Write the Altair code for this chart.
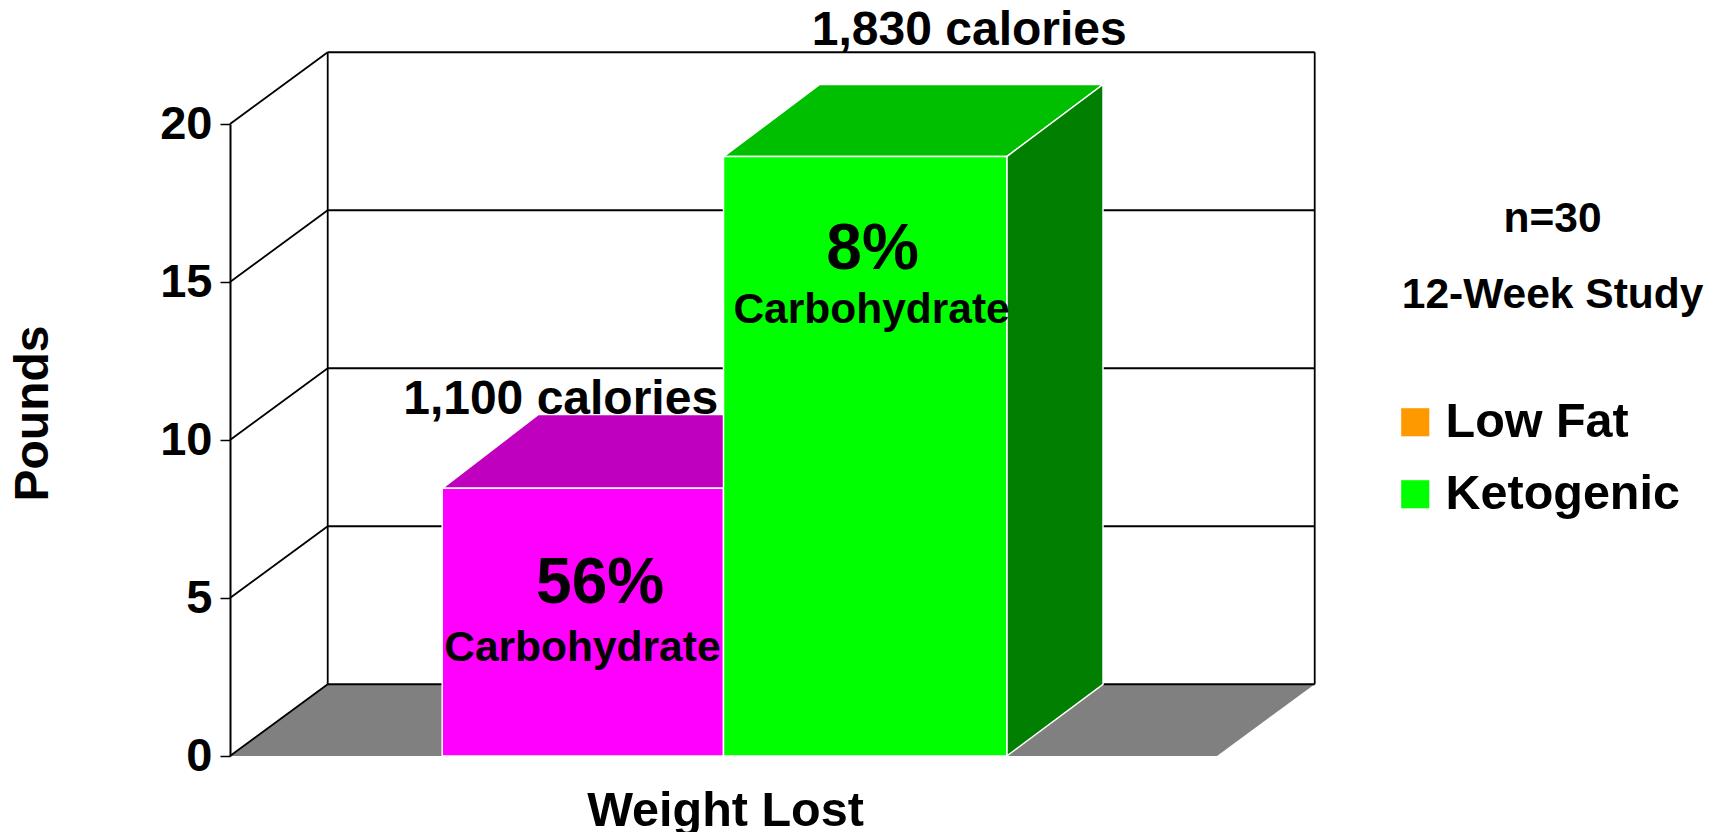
import altair as alt
import pandas as pd

FONT = "Liberation Sans"

# Values
bar_names = ["Low Fat", "Ketogenic"]
bar_values = [8.47, 18.97]
bar_back_values = [10.81, 21.25]
bar_back_floor = [2.27, 2.27]
bar_left = [21.5, 50.0]
bar_right = [50.0, 78.7]
bar_front = ["#FF00FF", "#00FF00"]
bar_top = ["#BF00BF", "#00BF00"]
bar_side = ["#7F007F", "#007F00"]

y_ticks = [0, 5, 10, 15, 20]
depth_x = 9.9
bar_depth_x = 9.75
depth_y = 2.27
floor_right = 100

legend_names = ["Low Fat", "Ketogenic"]
legend_colors = ["#FF9900", "#00FF00"]

big_texts = ["56%", "8%"]
big_x = [37.5, 65.1]
big_y = [5.43, 16.02]
mid_texts = ["1,100 calories", "1,830 calories"]
mid_x = [33.5, 74.9]
mid_y = [11.27, 22.95]
small_texts = ["Carbohydrate", "Carbohydrate", "n=30", "12-Week Study"]
small_x = [35.7, 65.0, 134.0, 134.0]
small_y = [3.43, 14.1, 16.98, 14.58]

x_scale = alt.Scale(domain=[0, 100], nice=False, zero=False)
y_scale = alt.Scale(domain=[0, 20], nice=False, zero=False)

X = alt.X(
    "x:Q",
    scale=x_scale,
    axis=alt.Axis(
        title="Weight Lost", domain=False, ticks=False, labels=False, grid=False,
        titleFont=FONT, titleFontWeight="bold", titleFontSize=48.5, titleColor="black",
        titleX=495, titleY=54, titleBaseline="middle", titleAnchor="middle", titleAlign="center",
    ),
)
Y = alt.Y(
    "y:Q",
    scale=y_scale,
    axis=alt.Axis(
        title="Pounds", values=y_ticks, grid=False, domain=True, domainColor="black",
        domainWidth=2, ticks=True, tickColor="black", tickSize=10, tickWidth=1.5,
        labelFont=FONT, labelFontWeight="bold", labelFontSize=47, labelColor="black",
        labelPadding=8, titleFont=FONT, titleFontWeight="bold", titleFontSize=48,
        titleColor="black", titleX=-197, titleY=289, titleBaseline="middle",
    ),
)


def area(rows, color, stroke=None):
    kw = {"stroke": stroke, "strokeWidth": 1.5} if stroke else {}
    return (
        alt.Chart(pd.DataFrame(rows, columns=["x", "y", "y2"]))
        .mark_area(fill=color, fillOpacity=1, filled=True, **kw)
        .encode(x=X, y=Y, y2="y2:Q")
    )


floor = area(
    [
        (0, 0, 0),
        (depth_x, depth_y, 0),
        (floor_right, depth_y, 0),
        (floor_right + depth_x, depth_y, depth_y),
    ],
    "#808080",
)

segments = []
for t in y_ticks:
    segments.append((0, depth_x, t, t + depth_y))
    segments.append((depth_x, floor_right + depth_x, t + depth_y, t + depth_y))
for wall_x in [depth_x, floor_right + depth_x]:
    segments.append((wall_x, wall_x, depth_y, 20 + depth_y))
walls = (
    alt.Chart(pd.DataFrame(segments, columns=["x", "x2", "y", "y2"]))
    .mark_rule(color="black", strokeWidth=1.8)
    .encode(x=X, x2="x2:Q", y=Y, y2="y2:Q")
)

layers = [floor, walls]
for i in range(len(bar_names)):
    f = bar_values[i]
    g = bar_back_values[i]
    a = bar_left[i]
    b = bar_right[i]
    front = (
        alt.Chart(pd.DataFrame({"x": [a], "x2": [b], "y": [f], "y2": [0]}))
        .mark_rect(color=bar_front[i], stroke="white", strokeWidth=1.5)
        .encode(x=X, x2="x2:Q", y=Y, y2="y2:Q")
    )
    top = area(
        [
            (a, f, f),
            (a + bar_depth_x, g, f),
            (b, g, f),
            (b + bar_depth_x, g, g),
        ],
        bar_top[i],
        "white",
    )
    side = area(
        [(b, f, 0), (b + bar_depth_x, g, bar_back_floor[i])],
        bar_side[i],
        "white",
    )
    layers += [top, side, front]


def text_layer(texts, xs, ys, size):
    return (
        alt.Chart(pd.DataFrame({"x": xs, "y": ys, "t": texts}))
        .mark_text(font=FONT, fontWeight="bold", fontSize=size, color="black",
                   align="center", baseline="middle")
        .encode(x=X, y=Y, text="t:N")
    )


layers.append(text_layer(big_texts, big_x, big_y, 64))
layers.append(text_layer(mid_texts, mid_x, mid_y, 48))
layers.append(text_layer(small_texts, small_x, small_y, 42.5))

legend_layer = (
    alt.Chart(pd.DataFrame({"x": [0, 0], "y": [0, 0], "series": legend_names}))
    .mark_point(filled=True, size=0, shape="square")
    .encode(
        x=X,
        y=Y,
        color=alt.Color(
            "series:N",
            scale=alt.Scale(domain=legend_names, range=legend_colors),
            legend=alt.Legend(
                title=None, orient="none", legendX=1161, legendY=274,
                symbolType="square", symbolSize=790, symbolStrokeWidth=0,
                symbolOpacity=1,
                labelFont=FONT, labelFontWeight="bold", labelFontSize=48.5,
                labelColor="black", labelOffset=6, labelLimit=400, rowPadding=23,
                padding=0,
            ),
        ),
    )
)
layers.append(legend_layer)

chart = alt.layer(*layers).properties(
    width=987,
    height=632,
    padding={"left": 222, "top": 116, "right": 494, "bottom": 76},
    autosize=alt.AutoSizeParams(type="none"),
    background="white",
).configure_view(stroke=None)

chart.save("out.html", embed_options={"renderer": "svg", "actions": False})
